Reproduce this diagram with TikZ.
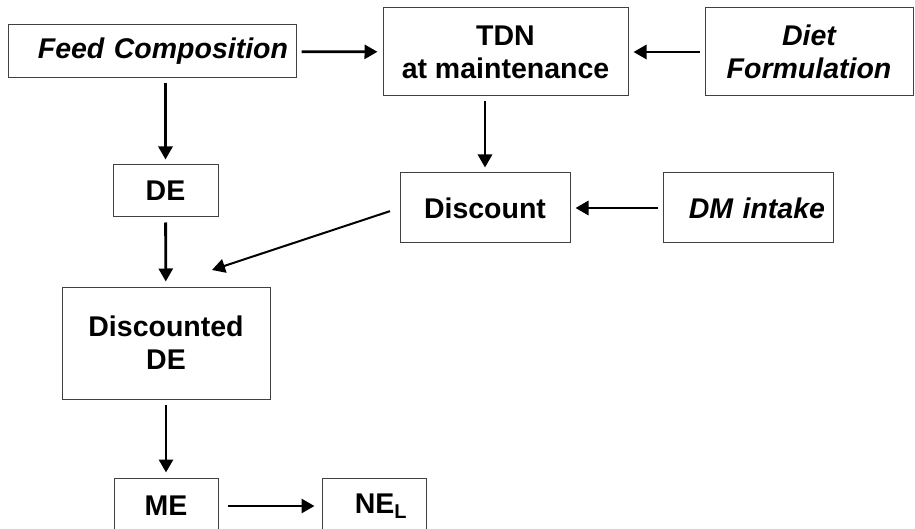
\documentclass[tikz,border=0pt]{standalone}
\usepackage{fontspec}
\setmainfont{Liberation Sans}
\usetikzlibrary{arrows.meta}

\begin{document}
\begin{tikzpicture}[
    x=1pt, y=-1pt,
    every node/.style={font=\fontsize{28.5}{33}\selectfont\bfseries},
    box/.style={draw=black!75, line width=1pt, inner sep=0pt, align=center},
    inbox/.style={box, font=\fontsize{28.5}{33}\selectfont\bfseries\itshape},
    flow/.style={line width=2.8pt, -{Triangle[length=13pt, width=14pt]}, shorten >=5pt, shorten <=5pt},
]

% Page frame
\useasboundingbox (0,0) rectangle (915,529);
\clip (0,0) rectangle (915,529);

% Top row
\node[inbox, align=right, inner xsep=8pt, text width=272pt, minimum height=53pt] (feed) at (152,51.5) {Feed Composition};
\node[box, minimum width=245pt, minimum height=88pt] (tdn) at (505.5,52) {TDN\\at maintenance};
\node[inbox, minimum width=208pt, minimum height=88pt] (diet) at (809,52) {Diet\\Formulation};

% Middle row
\node[box, minimum width=105pt, minimum height=52pt] (de) at (165.5,191) {DE};
\node[box, minimum width=170pt, minimum height=70pt] (discount) at (485,208) {Discount};
\node[inbox, align=right, inner xsep=8pt, text width=154pt, minimum height=70pt] (dm) at (748,208) {DM intake};

% Discounted DE
\node[box, minimum width=208pt, minimum height=112pt] (dde) at (166,343) {Discounted\\DE};
\coordinate (dtip) at (212,270);

% Bottom row
\node[box, minimum width=104pt, minimum height=56pt] (me) at (166,506) {ME};
\node[box, minimum width=104pt, minimum height=56pt] (nel) at (374,506) {\hspace*{14pt}NE\textsubscript{L}};

% Arrows
\draw[flow] (feed) -- (tdn);
\draw[flow] (diet) -- (tdn);
\draw[flow] (feed.south -| de) -- (de);
\draw[flow] (tdn.south -| discount) -- (discount);
\draw[flow] (dm) -- (discount);
\draw[flow, line width=2pt, shorten >=0pt, shorten <=10pt] (discount.west) -- (dtip);
\draw[flow] (de) -- (dde);
\draw[flow] (dde) -- (me);
\draw[flow, shorten <=9pt, shorten >=7pt] (me) -- (nel);

\end{tikzpicture}
\end{document}
